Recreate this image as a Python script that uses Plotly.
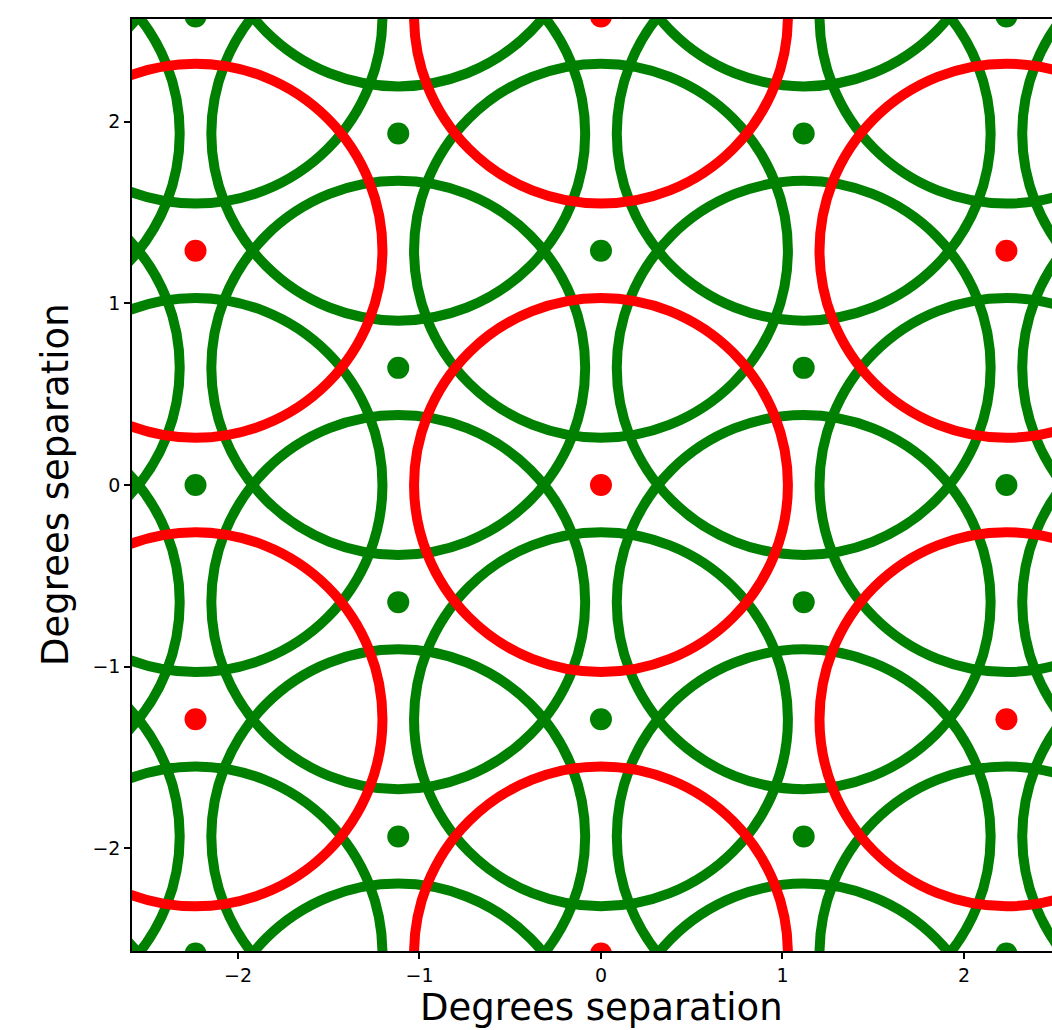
import plotly.graph_objects as go

# Pointing centres (degrees)
red_x = [0.0, 0.0, 0.0, -2.234, -2.234, 2.234, 2.234]
red_y = [-2.58, 0.0, 2.58, -1.29, 1.29, -1.29, 1.29]

green_x = [
    -3.351, -3.351, -3.351, -3.351, -3.351, -3.351,
    -2.234, -2.234, -2.234,
    -1.117, -1.117, -1.117, -1.117, -1.117, -1.117,
    0.0, 0.0,
    1.117, 1.117, 1.117, 1.117, 1.117, 1.117,
    2.234, 2.234, 2.234,
    3.351, 3.351, 3.351, 3.351, 3.351, 3.351,
]
green_y = [
    -3.225, -1.935, -0.645, 0.645, 1.935, 3.225,
    -2.58, 0.0, 2.58,
    -3.225, -1.935, -0.645, 0.645, 1.935, 3.225,
    -1.29, 1.29,
    -3.225, -1.935, -0.645, 0.645, 1.935, 3.225,
    -2.58, 0.0, 2.58,
    -3.225, -1.935, -0.645, 0.645, 1.935, 3.225,
]

radius_deg = 1.03

tick_vals = [-2, -1, 0, 1, 2]
tick_text = ["\u22122", "\u22121", "0", "1", "2"]
axis_label = "Degrees separation"

GREEN = "#008000"
RED = "#ff0000"

shapes = []
for cx, cy in zip(green_x, green_y):
    shapes.append(dict(type="circle", xref="x", yref="y",
                       x0=cx - radius_deg, x1=cx + radius_deg,
                       y0=cy - radius_deg, y1=cy + radius_deg,
                       line=dict(color=GREEN, width=10), layer="above"))
for cx, cy in zip(red_x, red_y):
    shapes.append(dict(type="circle", xref="x", yref="y",
                       x0=cx - radius_deg, x1=cx + radius_deg,
                       y0=cy - radius_deg, y1=cy + radius_deg,
                       line=dict(color=RED, width=10), layer="above"))

fig = go.Figure()
fig.add_trace(go.Scatter(x=green_x, y=green_y, mode="markers",
                         marker=dict(color=GREEN, size=22, line=dict(width=0)),
                         showlegend=False, hoverinfo="skip"))
fig.add_trace(go.Scatter(x=red_x, y=red_y, mode="markers",
                         marker=dict(color=RED, size=22, line=dict(width=0)),
                         showlegend=False, hoverinfo="skip"))

font_family = "DejaVu Sans"
W, H = 1052, 1030
L, R, T, B = 132, 0, 19, 79
pw, ph = W - L - R, H - T - B

fig.update_layout(
    width=W, height=H,
    margin=dict(l=L, r=R, t=T, b=B, pad=0),
    paper_bgcolor="white", plot_bgcolor="white",
    shapes=shapes,
    font=dict(family=font_family, color="black"),
    showlegend=False,
    annotations=[
        dict(text=axis_label, xref="paper", yref="paper",
             x=(601 - L) / pw, y=(H - B - 1007) / ph,
             xanchor="center", yanchor="middle", showarrow=False,
             font=dict(size=37, family=font_family, color="black")),
        dict(text=axis_label, xref="paper", yref="paper",
             x=(55 - L) / pw, y=0.5, textangle=-90,
             xanchor="center", yanchor="middle", showarrow=False,
             font=dict(size=37, family=font_family, color="black")),
    ],
)
fig.update_xaxes(
    range=[-2.584, 2.485], showgrid=False, zeroline=False,
    showline=True, linecolor="black", linewidth=1.5, mirror=True,
    ticks="outside", ticklen=6, tickwidth=1.5, tickcolor="black",
    tickvals=tick_vals, ticktext=tick_text,
    tickfont=dict(size=19, family=font_family, color="black"),
)
fig.update_yaxes(
    range=[-2.566, 2.566], showgrid=False, zeroline=False,
    showline=True, linecolor="black", linewidth=1.5, mirror=False,
    ticks="outside", ticklen=6, tickwidth=1.5, tickcolor="black",
    tickvals=tick_vals, ticktext=tick_text,
    tickfont=dict(size=19, family=font_family, color="black"),
)

fig.write_html("out.html")
